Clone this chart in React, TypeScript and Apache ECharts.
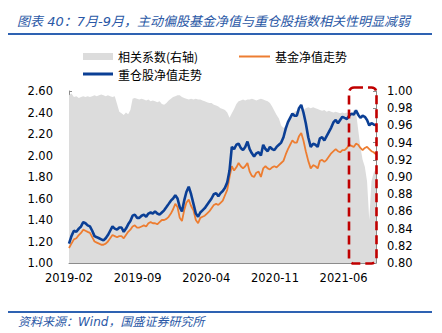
import React, { useEffect, useRef } from 'react';
import * as echarts from 'echarts';

const titleText = '图表 40：7月-9月，主动偏股基金净值与重仓股指数相关性明显减弱';
const sourceText = '资料来源：Wind，国盛证券研究所';
const seriesNames = ['相关系数(右轴)', '基金净值走势', '重仓股净值走势'];
const xTickLabels = ['2019-02', '2019-09', '2020-04', '2020-11', '2021-06'];
const startDate = '2019-02-01';

// weekly values, one per week starting 2019-02-01
const heavyStockNav = [
  1.18, 1.25, 1.30, 1.29, 1.32, 1.34, 1.38, 1.37, 1.35, 1.34,
  1.30, 1.25, 1.24, 1.23, 1.22, 1.21, 1.23, 1.26, 1.30, 1.34,
  1.32, 1.31, 1.33, 1.33, 1.29, 1.32, 1.36, 1.39, 1.44, 1.45,
  1.42, 1.42, 1.44, 1.45, 1.43, 1.46, 1.47, 1.46, 1.48, 1.46,
  1.45, 1.47, 1.49, 1.52, 1.55, 1.58, 1.60, 1.63, 1.60, 1.52,
  1.48, 1.58, 1.66, 1.71, 1.64, 1.55, 1.46, 1.43, 1.47, 1.49,
  1.51, 1.54, 1.57, 1.60, 1.64, 1.65, 1.62, 1.65, 1.67, 1.70,
  1.75, 1.86, 2.08, 2.06, 2.10, 2.11, 2.07, 2.05, 2.08, 2.13,
  2.06, 2.02, 1.99, 2.02, 2.03, 2.00, 2.10, 2.06, 2.04, 2.08,
  2.06, 2.05, 2.08, 2.10, 2.12, 2.17, 2.25, 2.31, 2.35, 2.39,
  2.37, 2.37, 2.44, 2.47, 2.40, 2.30, 2.17, 2.08, 2.11, 2.10,
  2.08, 2.16, 2.17, 2.14, 2.18, 2.22, 2.26, 2.31, 2.33, 2.30,
  2.33, 2.36, 2.35, 2.34, 2.37, 2.39, 2.38, 2.42, 2.38, 2.35,
  2.37, 2.36, 2.33, 2.28, 2.30, 2.29, 2.28,
];

const fundNav = [
  1.14, 1.18, 1.22, 1.23, 1.26, 1.28, 1.31, 1.30, 1.29, 1.28,
  1.24, 1.20, 1.19, 1.18, 1.17, 1.17, 1.18, 1.20, 1.23, 1.26,
  1.25, 1.24, 1.25, 1.25, 1.23, 1.26, 1.29, 1.31, 1.34, 1.35,
  1.33, 1.33, 1.34, 1.35, 1.34, 1.37, 1.38, 1.37, 1.37, 1.36,
  1.38, 1.40, 1.40, 1.41, 1.43, 1.46, 1.50, 1.55, 1.52, 1.42,
  1.39, 1.49, 1.56, 1.59, 1.53, 1.49, 1.40, 1.37, 1.42, 1.43,
  1.44, 1.46, 1.48, 1.51, 1.54, 1.55, 1.54, 1.56, 1.58, 1.63,
  1.68, 1.80, 1.90, 1.86, 1.89, 1.93, 1.90, 1.88, 1.90, 1.93,
  1.85, 1.81, 1.80, 1.84, 1.85, 1.80, 1.88, 1.90, 1.88, 1.87,
  1.89, 1.90, 1.89, 1.91, 1.93, 1.95, 2.01, 2.06, 2.10, 2.14,
  2.12, 2.12, 2.18, 2.21, 2.14, 2.04, 1.95, 1.88, 1.91, 1.90,
  1.88, 1.95, 1.96, 1.94, 1.96, 1.99, 2.02, 2.04, 2.06, 2.04,
  2.03, 2.05, 2.05, 2.07, 2.10, 2.09, 2.08, 2.11, 2.10, 2.07,
  2.05, 2.07, 2.08, 2.06, 2.04, 2.03, 2.01,
];

const correlation = [
  0.995, 0.997, 0.993, 0.994, 0.992, 0.993, 0.994, 0.993, 0.994, 0.993,
  0.994, 0.995, 0.994, 0.995, 0.996, 0.995, 0.994, 0.995, 0.994, 0.993,
  0.994, 0.985, 0.976, 0.974, 0.972, 0.975, 0.973, 0.978, 0.991, 0.992,
  0.991, 0.990, 0.991, 0.990, 0.989, 0.990, 0.988, 0.989, 0.988, 0.987,
  0.988, 0.985, 0.984, 0.986, 0.989, 0.991, 0.993, 0.994, 0.995, 0.995,
  0.993, 0.992, 0.991, 0.990, 0.991, 0.990, 0.991, 0.990, 0.990, 0.989,
  0.988, 0.987, 0.986, 0.986, 0.984, 0.983, 0.982, 0.980, 0.979, 0.978,
  0.975, 0.969, 0.974, 0.979, 0.985, 0.988, 0.989, 0.990, 0.989, 0.990,
  0.990, 0.991, 0.990, 0.989, 0.990, 0.991, 0.990, 0.989, 0.988, 0.986,
  0.982, 0.977, 0.972, 0.968, 0.960, 0.957, 0.960, 0.965, 0.970, 0.973,
  0.976, 0.977, 0.978, 0.979, 0.978, 0.980, 0.981, 0.980, 0.981, 0.980,
  0.979, 0.978, 0.977, 0.978, 0.976, 0.977, 0.976, 0.975, 0.976, 0.975,
  0.974, 0.975, 0.974, 0.975, 0.974, 0.973, 0.978, 0.976, 0.955, 0.935,
  0.920, 0.912, 0.895, 0.850, 0.895, 0.905, 0.910,
];

// position of a date in months since 2019-02
function monthIndex(d: Date): number {
  const y = d.getUTCFullYear();
  const m = d.getUTCMonth();
  const dim = new Date(Date.UTC(y, m + 1, 0)).getUTCDate();
  return (y - 2019) * 12 + (m - 1) + (d.getUTCDate() - 1) / dim;
}

function weeklyDates(n: number): Date[] {
  const t0 = Date.parse(startDate + 'T00:00:00Z');
  const out: Date[] = [];
  for (let i = 0; i < n; i++) out.push(new Date(t0 + i * 7 * 86400000));
  return out;
}

export default function App() {
  const ref = useRef<HTMLDivElement>(null);
  useEffect(() => {
    if (!ref.current) return;
    const chart = echarts.init(ref.current, null, { renderer: 'svg' });
    const dates = weeklyDates(heavyStockNav.length);
    const xs = dates.map(monthIndex);
    const xMax = xs[xs.length - 1];
    const pair = (arr: number[]) => arr.map((v, i) => [xs[i], v]);
    const axisColor = '#8c8c8c';
    const labelFont = 'DejaVu Sans';
    const cjk = '"Noto Sans CJK SC", sans-serif';
    const legendText = { fontSize: 12, lineHeight: 13, color: '#000', fontFamily: cjk };

    chart.setOption({
      animation: false,
      backgroundColor: '#fff',
      title: {
        text: titleText,
        left: 17,
        top: 14,
        padding: 0,
        textStyle: {
          fontSize: 13,
          lineHeight: 14,
          fontStyle: 'italic',
          fontWeight: 'normal',
          color: '#2a58a6',
          fontFamily: '"DejaVu Sans", "Noto Sans CJK SC", sans-serif',
        },
      },
      legend: [
        {
          data: [{ name: seriesNames[0], icon: 'rect' }],
          left: 83, top: 50, padding: 0,
          itemWidth: 30, itemHeight: 7, itemGap: 0,
          textStyle: legendText,
        },
        {
          data: [{ name: seriesNames[1], icon: 'rect' }],
          left: 239, top: 50, padding: 0,
          itemWidth: 31, itemHeight: 2, itemGap: 0,
          textStyle: legendText,
        },
        {
          data: [{ name: seriesNames[2], icon: 'rect' }],
          left: 83, top: 67.5, padding: 0,
          itemWidth: 30, itemHeight: 3, itemGap: 0,
          textStyle: legendText,
        },
      ],
      grid: { left: 69, right: 66, top: 91, bottom: 70 },
      xAxis: {
        type: 'value',
        min: 0,
        max: xMax,
        interval: 7,
        axisLine: { show: true, lineStyle: { color: axisColor, width: 1 } },
        axisTick: { show: true, inside: true, length: 5, lineStyle: { color: axisColor } },
        axisLabel: {
          margin: 9,
          fontSize: 11.5,
          color: '#000',
          fontFamily: labelFont,
          showMaxLabel: false,
          formatter: (v: number) => {
            const k = Math.round(v / 7);
            return Math.abs(v - k * 7) < 1e-6 && xTickLabels[k] ? xTickLabels[k] : '';
          },
        },
        splitLine: { show: false },
      },
      yAxis: [
        {
          type: 'value',
          position: 'left',
          min: 1,
          max: 2.6,
          interval: 0.2,
          axisLine: { show: true, lineStyle: { color: axisColor } },
          axisTick: { show: true, inside: true, length: 3, lineStyle: { color: axisColor } },
          axisLabel: {
            margin: 16, fontSize: 11.5, color: '#000', fontFamily: labelFont,
            formatter: (v: number) => v.toFixed(2),
          },
          splitLine: { show: false },
        },
        {
          type: 'value',
          position: 'right',
          min: 0.8,
          max: 1.0,
          interval: 0.02,
          axisLine: { show: true, lineStyle: { color: axisColor } },
          axisTick: { show: true, inside: true, length: 3, lineStyle: { color: axisColor } },
          axisLabel: {
            margin: 11, fontSize: 11.5, color: '#000', fontFamily: labelFont,
            formatter: (v: number) => v.toFixed(2),
          },
          splitLine: { show: false },
        },
      ],
      series: [
        {
          name: seriesNames[0],
          type: 'line',
          yAxisIndex: 1,
          data: pair(correlation),
          symbol: 'none',
          lineStyle: { width: 0 },
          itemStyle: { color: '#dcdcdc' },
          areaStyle: { color: '#dcdcdc', opacity: 1, origin: 'start' },
          z: 1,
        },
        {
          name: seriesNames[1],
          type: 'line',
          data: pair(fundNav),
          symbol: 'none',
          itemStyle: { color: '#ed7d31' },
          lineStyle: { color: '#ed7d31', width: 1.8 },
          z: 2,
        },
        {
          name: seriesNames[2],
          type: 'line',
          data: pair(heavyStockNav),
          symbol: 'none',
          itemStyle: { color: '#0b3f95' },
          lineStyle: { color: '#0b3f95', width: 2.6 },
          z: 3,
        },
      ],
      graphic: [
        {
          type: 'line',
          shape: { x1: 8, y1: 34, x2: 432, y2: 34 },
          style: { stroke: '#2e62b2', lineWidth: 2 },
        },
        {
          type: 'line',
          shape: { x1: 8, y1: 312, x2: 432, y2: 312 },
          style: { stroke: '#2e62b2', lineWidth: 2 },
        },
        {
          type: 'text',
          x: 18,
          y: 321.5,
          style: {
            text: sourceText,
            fontSize: 12,
            fontStyle: 'italic',
            fontFamily: '"DejaVu Sans", "Noto Sans CJK SC", sans-serif',
            fill: '#2a58a6',
            verticalAlign: 'middle',
          },
        },
        {
          type: 'rect',
          z: 100,
          shape: { x: 349, y: 87.5, width: 27.5, height: 176, r: 5 },
          style: { fill: 'none', stroke: '#c00000', lineWidth: 2.6, lineDash: [9, 5] },
        },
      ],
    });
    return () => chart.dispose();
  }, []);
  return (
    <div
      ref={ref}
      style={{ position: 'fixed', left: 0, top: 0, width: 442, height: 333, background: '#fff' }}
    />
  );
}
